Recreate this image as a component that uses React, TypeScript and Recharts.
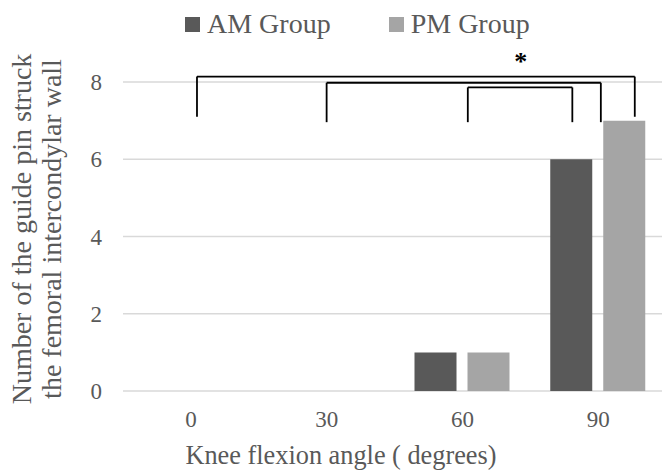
import { Bar, BarChart, CartesianGrid, ReferenceDot, ReferenceLine, XAxis, YAxis } from "recharts";

const angles = ["0", "30", "60", "90"];
const amGroup = [0, 0, 1, 6];
const pmGroup = [0, 0, 1, 7];
const yTicks = [0, 2, 4, 6, 8];

// significance brackets, x in category units (0..3), y in counts
const brackets = [
  { x1: 0.045, x2: 3.27, top: 8.14, left: 7.1, right: 7.1 },
  { x1: 1.0, x2: 3.02, top: 7.98, left: 6.96, right: 6.96 },
  { x1: 2.04, x2: 2.81, top: 7.86, left: 6.96, right: 6.96 },
];
const star = { x: 2.43, y: 8.3, text: "*" };

const AM_COLOR = "#595959";
const PM_COLOR = "#a5a5a5";
const TEXT = "#595959";
const FONT = "'Liberation Serif', 'Times New Roman', serif";

const data = angles.map((a, i) => ({ angle: a, idx: i, am: amGroup[i], pm: pmGroup[i] }));

const legendItems = [
  { name: "AM Group", color: AM_COLOR },
  { name: "PM Group", color: PM_COLOR },
];

function YTitle() {
  return (
    <g fontFamily={FONT} fontSize={28} fill={TEXT}>
      <text x={31} y={229} textAnchor="middle" transform="rotate(-90 31 229)">
        Number of the guide pin struck
      </text>
      <text x={61} y={229} textAnchor="middle" transform="rotate(-90 61 229)">
        the femoral intercondylar wall
      </text>
    </g>
  );
}

function XTitle() {
  return (
    <text x={341} y={464} textAnchor="middle" fontFamily={FONT} fontSize={26.3} fill={TEXT}>
      Knee flexion angle ( degrees)
    </text>
  );
}

export default function App() {
  return (
    <div style={{ position: "absolute", left: 0, top: 0, width: 662, height: 472, overflow: "hidden", background: "#fff" }}>
      <div
        style={{
          position: "absolute",
          top: 8,
          left: 185,
          display: "flex",
          gap: 58,
          fontFamily: FONT,
          fontSize: 28,
          lineHeight: "31px",
          color: TEXT,
          zIndex: 2,
        }}
      >
        {legendItems.map((it) => (
          <div key={it.name} style={{ display: "flex", alignItems: "center" }}>
            <span style={{ width: 15, height: 15, background: it.color, marginRight: 7, marginTop: 2 }} />
            {it.name}
          </div>
        ))}
      </div>
      <BarChart
        width={666}
        height={472}
        data={data}
        margin={{ top: 82, right: 0, bottom: 51, left: 0 }}
        barSize={42}
        barGap={11}
      >
        <CartesianGrid vertical={false} stroke="#d9d9d9" strokeWidth={1.3} />
        <XAxis
          dataKey="angle"
          height={30}
          axisLine={false}
          tickLine={false}
          tickSize={0}
          tickMargin={20}
          tick={{ fill: TEXT, fontSize: 23, fontFamily: FONT }}
          interval={0}
          label={{ content: () => <XTitle /> }}
        />
        <XAxis xAxisId="n" dataKey="idx" type="number" domain={[-0.5, 3.5]} hide allowDataOverflow />
        <YAxis
          width={123}
          domain={[0, 8]}
          ticks={yTicks}
          axisLine={false}
          tickLine={false}
          tickSize={0}
          tickMargin={21}
          tick={{ fill: TEXT, fontSize: 23, fontFamily: FONT }}
          label={{ content: () => <YTitle /> }}
        />
        <Bar dataKey="am" name="AM Group" fill={AM_COLOR} isAnimationActive={false} />
        <Bar dataKey="pm" name="PM Group" fill={PM_COLOR} isAnimationActive={false} />
        {brackets.flatMap((b, i) => [
          <ReferenceLine
            key={`h${i}`}
            xAxisId="n"
            ifOverflow="visible"
            stroke="#000"
            strokeWidth={1.8}
            segment={[{ x: b.x1, y: b.top }, { x: b.x2, y: b.top }]}
          />,
          <ReferenceLine
            key={`l${i}`}
            xAxisId="n"
            ifOverflow="visible"
            stroke="#000"
            strokeWidth={1.8}
            segment={[{ x: b.x1, y: b.top }, { x: b.x1, y: b.left }]}
          />,
          <ReferenceLine
            key={`r${i}`}
            xAxisId="n"
            ifOverflow="visible"
            stroke="#000"
            strokeWidth={1.8}
            segment={[{ x: b.x2, y: b.top }, { x: b.x2, y: b.right }]}
          />,
        ])}
        <ReferenceDot
          xAxisId="n"
          x={star.x}
          y={star.y}
          ifOverflow="visible"
          shape={(p: any) => (
            <text x={p.cx} y={p.cy} textAnchor="middle" fontFamily={FONT} fontSize={26} fontWeight="bold" fill="#000">
              {star.text}
            </text>
          )}
        />
      </BarChart>
    </div>
  );
}
